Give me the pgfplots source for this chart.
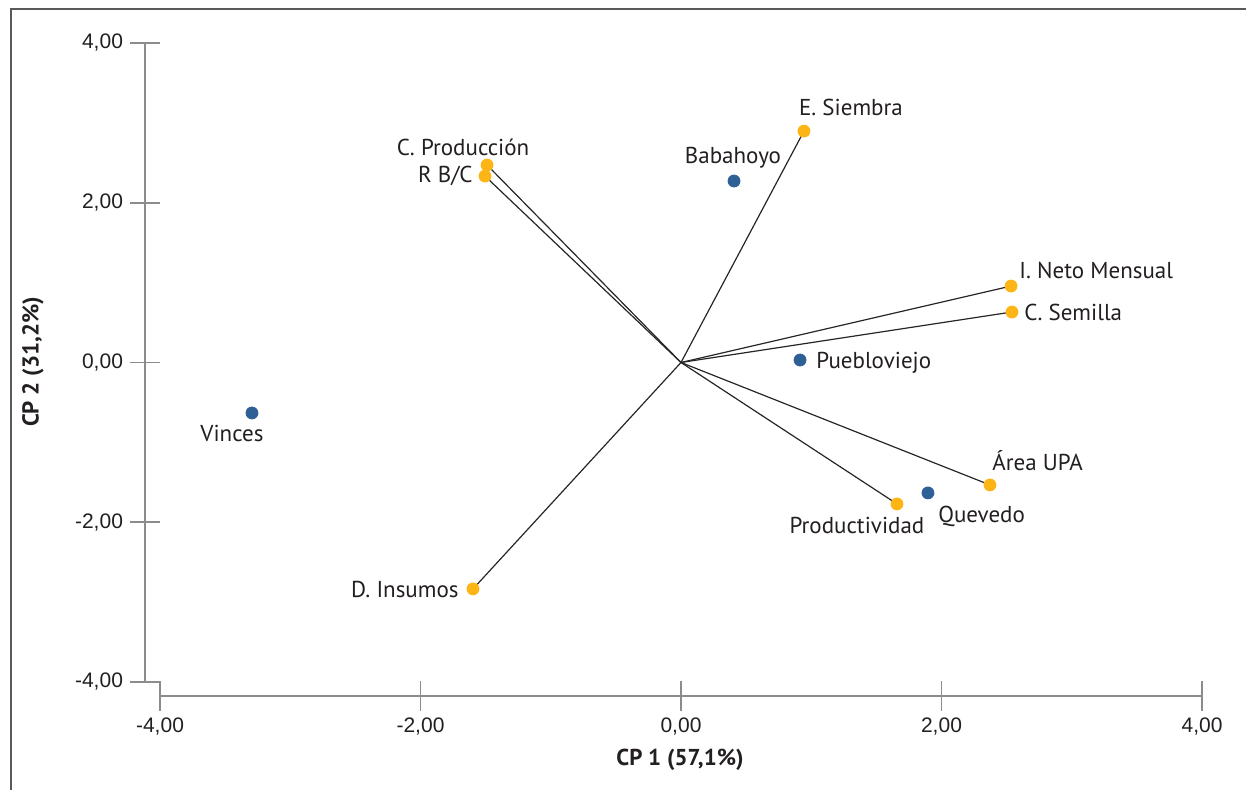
\documentclass[border=0pt]{standalone}
\usepackage{fontspec}
\setmainfont{PT Sans}
\newfontfamily\tickfont{Liberation Sans}
\usepackage{pgfplots}
\pgfplotsset{compat=1.18}
\definecolor{ptorange}{HTML}{FDB515}
\definecolor{ptblue}{HTML}{2E6096}
\definecolor{axgray}{HTML}{8C8C8C}
\definecolor{txt}{HTML}{231F20}

\pgfplotsset{
  common/.style={
    scale only axis, width=521pt, height=319.5pt,
    xmin=-4, xmax=4, ymin=-4, ymax=4, clip=false,
  },
  numfmt/.style={
    /pgf/number format/.cd, fixed, fixed zerofill, precision=2, use comma, assume math mode=true,
  },
  lab/.style n args={4}{
    nodes near coords={#1},
    every node near coord/.append style={anchor=#2, xshift=#3pt, yshift=#4pt, inner sep=0pt,
      font=\fontsize{11.5}{13}\selectfont, text=txt},
  },
  var/.style={only marks, mark=*, mark size=3pt, color=ptorange},
  site/.style={only marks, mark=*, mark size=3pt, color=ptblue},
  vec/.style={draw=black!85, line width=0.6pt, mark=none},
}

\begin{document}
\begin{tikzpicture}
\useasboundingbox (0,0) rectangle (623pt,395pt);
\draw[line width=1pt, color=black!65] (5.5pt,0pt) -- (5.5pt,390.25pt) -- (623pt,390.25pt);

% x axis (offset)
\begin{axis}[common, at={(80pt,47pt)}, anchor=south west,
  axis x line=bottom, axis y line=none,
  axis line style={-, color=axgray, line width=0.8pt},
  xtick={-4,-2,0,2,4}, ytick=\empty,
  tick align=center, major tick length=15pt,
  tick style={color=axgray, line width=0.8pt},
  xticklabel style={font=\tickfont\fontsize{10.5}{12}\selectfont, text=txt, numfmt},
]
\end{axis}

% y axis (offset)
\begin{axis}[common, at={(72.5pt,54pt)}, anchor=south west,
  axis y line=left, axis x line=none,
  axis line style={-, color=axgray, line width=0.8pt},
  ytick={-4,-2,0,2,4}, xtick=\empty,
  tick align=center, major tick length=15pt,
  tick style={color=axgray, line width=0.8pt},
  yticklabel style={font=\tickfont\fontsize{10.5}{12}\selectfont, text=txt, numfmt},
]
\end{axis}

% data
\begin{axis}[common, at={(80pt,54pt)}, anchor=south west, axis lines=none]
\addplot[vec] coordinates {(0,0) (0.944,2.897)};
\addplot[vec] coordinates {(0,0) (-1.489,2.472)};
\addplot[vec] coordinates {(0,0) (-1.505,2.334)};
\addplot[vec] coordinates {(0,0) (2.534,0.957)};
\addplot[vec] coordinates {(0,0) (2.541,0.632)};
\addplot[vec] coordinates {(0,0) (2.372,-1.533)};
\addplot[vec] coordinates {(0,0) (1.658,-1.771)};
\addplot[vec] coordinates {(0,0) (-1.597,-2.835)};
% variables
\addplot[var, lab={E. Siembra}{center}{23.5}{12}] coordinates {(0.944,2.897)};
\addplot[var, lab={C. Producción}{center}{-12}{9}] coordinates {(-1.489,2.472)};
\addplot[var, lab={R B/C}{east}{-6}{0}] coordinates {(-1.505,2.334)};
\addplot[var, lab={I. Neto Mensual}{west}{4}{8}] coordinates {(2.534,0.957)};
\addplot[var, lab={C. Semilla}{west}{6}{0}] coordinates {(2.541,0.632)};
\addplot[var, lab={Área UPA}{west}{1}{12}] coordinates {(2.372,-1.533)};
\addplot[var, lab={Productividad}{center}{-20}{-11}] coordinates {(1.658,-1.771)};
\addplot[var, lab={D. Insumos}{east}{-7}{-0.5}] coordinates {(-1.597,-2.835)};
% sites
\addplot[site, lab={Babahoyo}{center}{-0.5}{11.5}] coordinates {(0.407,2.272)};
\addplot[site, lab={Puebloviejo}{west}{8}{-1.5}] coordinates {(0.914,0.031)};
\addplot[site, lab={Quevedo}{west}{5}{-11.5}] coordinates {(1.896,-1.633)};
\addplot[site, lab={Vinces}{center}{-10}{-10.5}] coordinates {(-3.294,-0.632)};
\end{axis}

\node[font=\bfseries\fontsize{11.5}{13}\selectfont, text=txt] at (340pt,15pt) {CP 1 (57,1\%)};
\node[rotate=90, font=\bfseries\fontsize{11.5}{13}\selectfont, text=txt] at (16.5pt,214pt) {CP 2 (31,2\%)};
\end{tikzpicture}
\end{document}
